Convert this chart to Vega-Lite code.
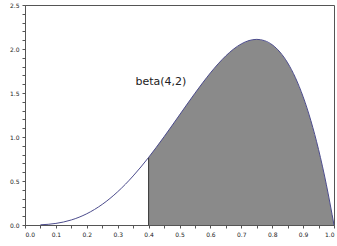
{
  "$schema": "https://vega.github.io/schema/vega-lite/v6.json",
  "width": 309,
  "height": 220,
  "autosize": {"type": "none"},
  "padding": {"left": 25, "top": 5, "right": 3, "bottom": 21},
  "background": "white",
  "config": {
    "view": {"stroke": "#555555", "strokeWidth": 1},
    "axis": {
      "domainColor": "#555555",
      "tickColor": "#555555",
      "labelColor": "#222222",
      "labelFont": "DejaVu Sans",
      "labelFontSize": 6,
      "labelOverlap": false,
      "labelBound": false,
      "grid": false,
      "title": null,
      "tickSize": 3
    }
  },
  "datasets": {
    "pdf": [
      {"x": 0, "y": 0}, {"x": 0.025, "y": 0.0003}, {"x": 0.05, "y": 0.0024}, {"x": 0.075, "y": 0.0078},
      {"x": 0.1, "y": 0.018}, {"x": 0.125, "y": 0.0342}, {"x": 0.15, "y": 0.0574}, {"x": 0.175, "y": 0.0884},
      {"x": 0.2, "y": 0.128}, {"x": 0.225, "y": 0.1766}, {"x": 0.25, "y": 0.2344}, {"x": 0.275, "y": 0.3016},
      {"x": 0.3, "y": 0.378}, {"x": 0.325, "y": 0.4634}, {"x": 0.35, "y": 0.5574}, {"x": 0.375, "y": 0.6592},
      {"x": 0.4, "y": 0.768}, {"x": 0.425, "y": 0.8828}, {"x": 0.45, "y": 1.0024}, {"x": 0.475, "y": 1.1253},
      {"x": 0.5, "y": 1.25}, {"x": 0.525, "y": 1.3747}, {"x": 0.55, "y": 1.4974}, {"x": 0.575, "y": 1.6159},
      {"x": 0.6, "y": 1.728}, {"x": 0.625, "y": 1.8311}, {"x": 0.65, "y": 1.9224}, {"x": 0.675, "y": 1.9991},
      {"x": 0.7, "y": 2.058}, {"x": 0.725, "y": 2.0959}, {"x": 0.75, "y": 2.1094}, {"x": 0.775, "y": 2.0947},
      {"x": 0.8, "y": 2.048}, {"x": 0.825, "y": 1.9653}, {"x": 0.85, "y": 1.8424}, {"x": 0.875, "y": 1.6748},
      {"x": 0.9, "y": 1.458}, {"x": 0.925, "y": 1.1872}, {"x": 0.95, "y": 0.8574}, {"x": 0.975, "y": 0.4634},
      {"x": 1.0, "y": 0}
    ],
    "edge": [{"x": 0.4, "y": 0.768}],
    "label": [{"x": 0.44, "y": 1.63, "text": "beta(4,2)"}]
  },
  "encoding": {
    "x": {"field": "x", "type": "quantitative", "scale": {"domain": [0, 1], "nice": false, "zero": false},
      "axis": {"values": [0,0.05,0.1,0.15,0.2,0.25,0.3,0.35,0.4,0.45,0.5,0.55,0.6,0.65,0.7,0.75,0.8,0.85,0.9,0.95,1],
        "labelExpr": "round(datum.value*100) % 10 === 0 ? format(datum.value, '.1f') : ''",
        "labelPadding": 3}},
    "y": {"field": "y", "type": "quantitative", "scale": {"domain": [0, 2.5], "nice": false},
      "axis": {"values": [0,0.1,0.2,0.3,0.4,0.5,0.6,0.7,0.8,0.9,1,1.1,1.2,1.3,1.4,1.5,1.6,1.7,1.8,1.9,2,2.1,2.2,2.3,2.4,2.5],
        "labelExpr": "round(datum.value*10) % 5 === 0 ? format(datum.value, '.1f') : ''",
        "labelPadding": 3}}
  },
  "layer": [
    {
      "data": {"name": "pdf"},
      "transform": [{"filter": "datum.x >= 0.4"}],
      "mark": {"type": "area", "color": "#8a8a8a", "opacity": 1}
    },
    {
      "data": {"name": "edge"},
      "mark": {"type": "rule", "color": "#333333", "strokeWidth": 1},
      "encoding": {"y2": {"datum": 0}}
    },
    {
      "data": {"name": "pdf"},
      "transform": [{"filter": "datum.x >= 0.05"}],
      "mark": {"type": "line", "color": "#4b4b8c", "strokeWidth": 1, "interpolate": "monotone"}
    },
    {
      "data": {"name": "label"},
      "mark": {"type": "text", "font": "DejaVu Sans", "fontSize": 11, "color": "#222222", "align": "center", "baseline": "middle"},
      "encoding": {"text": {"field": "text"}}
    }
  ]
}
